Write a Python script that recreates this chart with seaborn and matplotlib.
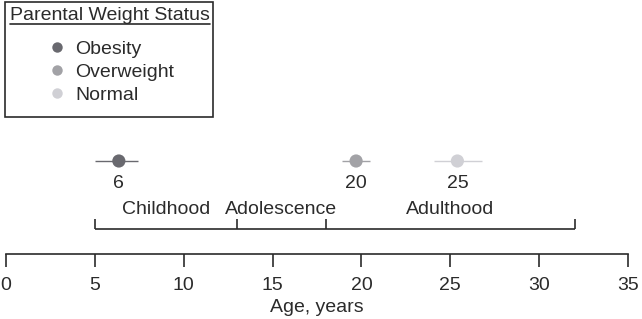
import matplotlib
matplotlib.use("Agg")
import matplotlib.pyplot as plt
import seaborn as sns
import pandas as pd
from matplotlib.lines import Line2D
from matplotlib.patches import Rectangle

# ---- data ----
groups = ["Obesity", "Overweight", "Normal"]
mean_age = [6.35, 19.7, 25.4]
ci_low = [5.0, 18.9, 24.1]
ci_high = [7.4, 20.5, 26.8]
point_labels = ["6", "20", "25"]
colors = ["#69696f", "#a2a2a6", "#d0d0d5"]

phases = ["Childhood", "Adolescence", "Adulthood"]
phase_start = [5, 13, 18]
phase_end = [13, 18, 32]

x_ticks = [0, 5, 10, 15, 20, 25, 30, 35]

df = pd.DataFrame({"group": groups, "age": mean_age, "lo": ci_low, "hi": ci_high})

sns.set_style("white")
plt.rcParams["font.family"] = ["Liberation Sans", "DejaVu Sans"]
TXT = "#2b2b2b"

W, H = 642, 319
fig = plt.figure(figsize=(W / 100, H / 100), dpi=100)
# axes: bottom spine at pixel row 254, x=0 at px 6, x=35 at px 628
ax = fig.add_axes([6 / W, (H - 254) / H, 622 / W, 254 / H])
ax.set_xlim(0, 35)
ax.set_ylim(254, 0)  # y in pixel rows from top

ROW_PT = 161
ROW_NUM = 183
ROW_PHASE = 209
ROW_BRACKET = 229

# error bars
for (_, r), c in zip(df.iterrows(), colors):
    ax.hlines(ROW_PT, r["lo"], r["hi"], color=c, lw=1.0, zorder=2)

df["row"] = ROW_PT
sns.scatterplot(data=df, x="age", y="row", hue="group", palette=colors,
                s=90, edgecolor="none", ax=ax, zorder=3, legend=False)

for m, lab in zip(mean_age, point_labels):
    ax.text(m, ROW_NUM, lab, ha="center", va="center", fontsize=14, color=TXT)

# life-phase bracket
ax.hlines(ROW_BRACKET, phase_start[0], phase_end[-1], color=TXT, lw=1.2)
edges = phase_start + [phase_end[-1]]
ax.vlines(edges, ROW_BRACKET - 10, ROW_BRACKET, color=TXT, lw=1.2)
for name, s, e in zip(phases, phase_start, phase_end):
    ax.text((s + e) / 2, ROW_PHASE, name, ha="center", va="center", fontsize=14, color=TXT)

# axis styling
for sp in ["left", "top", "right"]:
    ax.spines[sp].set_visible(False)
ax.spines["bottom"].set_color(TXT)
ax.spines["bottom"].set_linewidth(1.2)
ax.set_yticks([])
ax.set_xticks(x_ticks)
ax.set_xticklabels([str(t) for t in x_ticks])
ax.tick_params(axis="x", direction="out", length=9.5, width=1.2, color=TXT,
               labelsize=14, labelcolor=TXT, pad=7, bottom=True)
ax.set_xlabel("Age, years", fontsize=14, color=TXT, labelpad=4)
ax.set_ylabel("")

# legend
handles = [Line2D([], [], marker="o", ls="none", markersize=7.5,
                  markerfacecolor=c, markeredgecolor="none") for c in colors]
leg = fig.legend(handles, groups, title="Parental Weight Status",
                 loc="upper left", bbox_to_anchor=(10 / W, 1 - 7 / H),
                 frameon=False, fontsize=14, title_fontsize=14,
                 borderpad=0, labelspacing=0.27, handletextpad=0.35,
                 handlelength=1.2, borderaxespad=0)
for t in leg.get_texts():
    t.set_color(TXT)
leg.get_title().set_color(TXT)
leg._legend_box.sep = 12

# legend frame
fig.add_artist(Rectangle((5 / W, 1 - 117 / H), 208 / W, 115 / H,
                         transform=fig.transFigure, fill=False,
                         edgecolor=TXT, lw=1.2))

fig.canvas.draw()
bb = leg.get_title().get_window_extent()
y_ul = 1 - 24 / H
fig.add_artist(Line2D([bb.x0 / W, bb.x1 / W], [y_ul, y_ul],
                      transform=fig.transFigure, color=TXT, lw=1.2))

fig.savefig("out.png", dpi=100)
